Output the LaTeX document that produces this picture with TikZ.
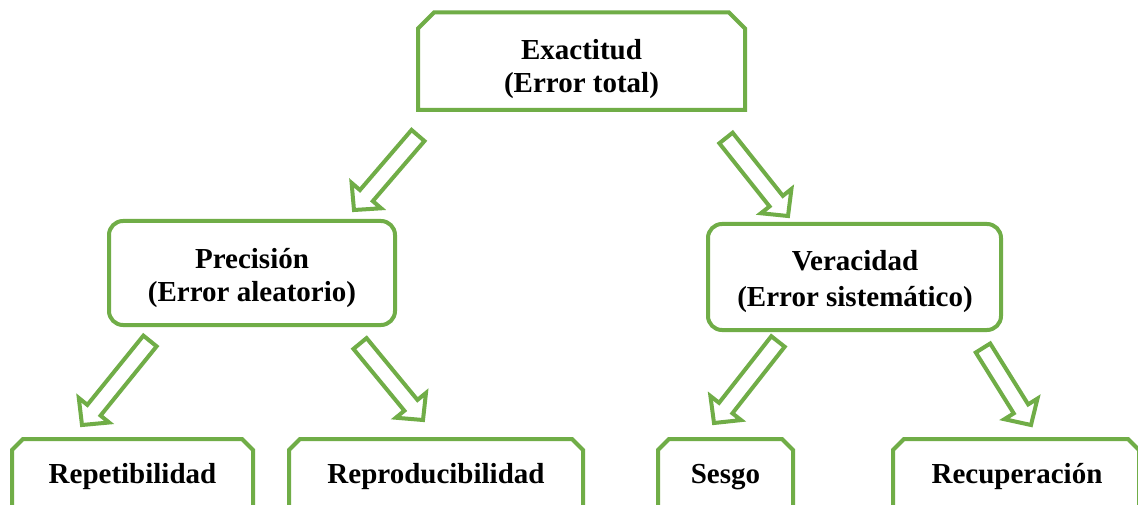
\documentclass[tikz,border=0pt]{standalone}
\usepackage{fontspec}
\setmainfont{Liberation Serif}
\usetikzlibrary{calc}
\definecolor{ogreen}{HTML}{70AD47}
\tikzset{
  boxline/.style={draw=ogreen, line width=4pt, line join=miter},
  rbox/.style={boxline, rounded corners=14pt, inner sep=0pt, outer sep=0pt},
  frame/.style={inner sep=0pt, outer sep=0pt, draw=none},
  lbl/.style={font=\bfseries\fontsize{29}{33}\selectfont, align=center, inner sep=0pt},
  blockarr/.style={draw=ogreen, line width=4pt, fill=white, line join=miter},
}
\newcommand{\chamferbox}[2]{%
  \draw[boxline] (#1.south west) -- ([yshift=-#2]#1.north west) -- ([xshift=#2]#1.north west) -- ([xshift=-#2]#1.north east) -- ([yshift=-#2]#1.north east) -- (#1.south east) -- cycle;}
\newcommand{\blockarrow}[2]{%
  \coordinate (hb) at ($(#2)!19pt!(#1)$);
  \draw[blockarr] ($(#1)!8.5pt!90:(#2)$) -- ($(hb)!8.5pt!-90:(#1)$) -- ($(hb)!19.5pt!-90:(#1)$) -- (#2) -- ($(hb)!19.5pt!90:(#1)$) -- ($(hb)!8.5pt!90:(#1)$) -- ($(#1)!8.5pt!-90:(#2)$) -- cycle;}
\begin{document}
\begin{tikzpicture}[x=1pt, y=-1pt]
\useasboundingbox[fill=white] (0,0) rectangle (1138,505);
% top box
\node[frame, minimum width=327pt, minimum height=97.5pt] (exa) at (581.5,61.25) {};
\chamferbox{exa}{16pt}
\node[lbl] (exaT) at (581.5,69) {Exactitud\\(Error total)};
% middle boxes
\node[rbox, minimum width=286pt, minimum height=104pt] (pre) at (252,273) {};
\node[lbl] (preT) at (252,278) {Precisión\\(Error aleatorio)};
\node[rbox, minimum width=293pt, minimum height=106pt] (ver) at (854.5,277) {};
\node[lbl] (verT) at (855,282) {Veracidad\\[3pt](Error sistemático)};
% bottom boxes
\node[frame, minimum width=241pt, minimum height=140pt] (rep) at (132.5,509) {};
\chamferbox{rep}{11pt}
\node[lbl, anchor=base] (repT) at (132.5,483) {Repetibilidad};
\node[frame, minimum width=294pt, minimum height=140pt] (rpr) at (436,509) {};
\chamferbox{rpr}{11pt}
\node[lbl, anchor=base] (rprT) at (436,483) {Reproducibilidad};
\node[frame, minimum width=135pt, minimum height=140pt] (ses) at (725.5,509) {};
\chamferbox{ses}{11pt}
\node[lbl, anchor=base] (sesT) at (725.5,483) {Sesgo};
\node[frame, minimum width=246pt, minimum height=140pt] (rec) at (1016,509) {};
\chamferbox{rec}{11pt}
\node[lbl, anchor=base] (recT) at (1017,483) {Recuperación};
% arrows
\coordinate (a1t) at (418,135.5); \coordinate (a1p) at (354,210);
\coordinate (a2t) at (726,138);   \coordinate (a2p) at (788,216);
\coordinate (a3t) at (150,341);   \coordinate (a3p) at (82,425);
\coordinate (a4t) at (360,343.5); \coordinate (a4p) at (423,420);
\coordinate (a5t) at (778,341.5); \coordinate (a5p) at (714,423);
\coordinate (a6t) at (983,348);   \coordinate (a6p) at (1031,425);
\blockarrow{a1t}{a1p}
\blockarrow{a2t}{a2p}
\blockarrow{a3t}{a3p}
\blockarrow{a4t}{a4p}
\blockarrow{a5t}{a5p}
\blockarrow{a6t}{a6p}
\end{tikzpicture}
\end{document}
